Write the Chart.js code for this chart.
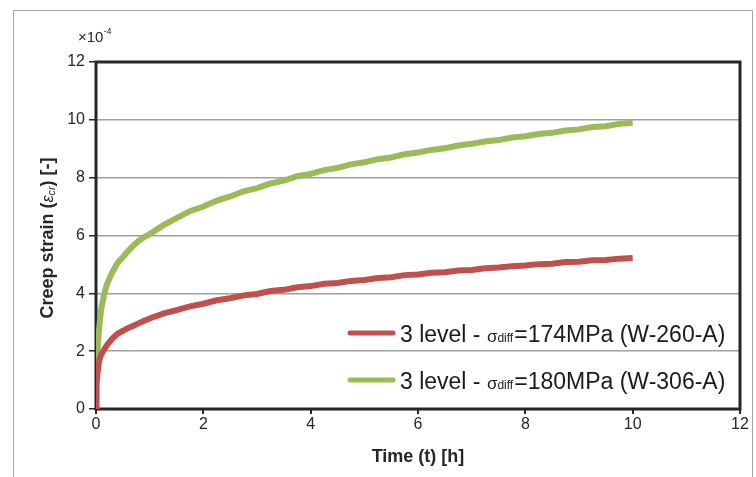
<!DOCTYPE html>
<html>
<head>
<meta charset="utf-8">
<script src="https://cdn.jsdelivr.net/npm/chart.js@4/dist/chart.umd.min.js"></script>
<style>
  body { margin: 0; background: #fff; }
  canvas { display: block; }
</style>
</head>
<body>
<canvas id="creepChart" width="756" height="477"></canvas>
<script>
// time in hours, strain in units of 1e-4
const hours = [0, 0.005, 0.01, 0.02, 0.04, 0.07, 0.1, 0.15, 0.2, 0.3, 0.4, 0.5, 0.6, 0.7, 0.8, 0.9, 1.0,
  1.25, 1.5, 1.75, 2, 2.25, 2.5, 2.75, 3, 3.25, 3.5, 3.75, 4, 4.25, 4.5, 4.75, 5,
  5.25, 5.5, 5.75, 6, 6.25, 6.5, 6.75, 7, 7.25, 7.5, 7.75, 8, 8.25, 8.5, 8.75, 9, 9.25, 9.5, 9.75, 10];
const strainW260 = [0, 0.5, 0.8, 1.1, 1.45, 1.75, 1.9, 2.05, 2.2, 2.43, 2.6, 2.7, 2.8, 2.88, 2.97, 3.05, 3.13,
  3.3, 3.42, 3.55, 3.64, 3.76, 3.83, 3.93, 3.98, 4.08, 4.12, 4.21, 4.25, 4.33, 4.36, 4.43, 4.46,
  4.53, 4.56, 4.63, 4.65, 4.71, 4.73, 4.79, 4.81, 4.87, 4.89, 4.94, 4.96, 5.01, 5.02, 5.08, 5.09, 5.14, 5.15, 5.2, 5.22];
const strainW306 = [0, 0.9, 1.3, 1.8, 2.4, 3.0, 3.5, 3.95, 4.3, 4.72, 5.05, 5.25, 5.47, 5.66, 5.82, 5.95, 6.05,
  6.35, 6.6, 6.84, 7.0, 7.21, 7.35, 7.53, 7.64, 7.8, 7.9, 8.05, 8.13, 8.26, 8.34, 8.46, 8.53,
  8.64, 8.7, 8.81, 8.87, 8.96, 9.02, 9.11, 9.17, 9.25, 9.3, 9.39, 9.43, 9.51, 9.55, 9.63, 9.67, 9.75, 9.78, 9.86, 9.9];
const xTicks = [0, 2, 4, 6, 8, 10, 12];
const yTicks = [0, 2, 4, 6, 8, 10, 12];

const seriesNames = [
  [['3 level - ', 'normal'], ['σ', 'sigma'], ['diff', 'sub'], ['=174MPa (W-260-A)', 'normal']],
  [['3 level - ', 'normal'], ['σ', 'sigma'], ['diff', 'sub'], ['=180MPa (W-306-A)', 'normal']]
];

const FONT = 'Liberation Sans, Arial, sans-serif';

function toPoints(xs, ys) {
  return xs.map(function (x, i) { return { x: x, y: ys[i] }; });
}

// draws a line of text made of runs with different fonts
function drawRuns(ctx, runs, x, y, align) {
  let total = 0;
  runs.forEach(function (r) { ctx.font = r.font; r.w = ctx.measureText(r.t).width + (r.gap || 0); total += r.w; });
  let cx = align === 'center' ? x - total / 2 : x;
  ctx.textBaseline = 'alphabetic';
  ctx.textAlign = 'left';
  runs.forEach(function (r) {
    ctx.font = r.font;
    ctx.fillText(r.t, cx, y + (r.dy || 0));
    cx += r.w;
  });
}

const decorPlugin = {
  id: 'decor',
  beforeDraw: function (chart) {
    const ctx = chart.ctx;
    ctx.save();
    ctx.strokeStyle = '#a6a6a6';
    ctx.lineWidth = 1;
    ctx.strokeRect(13.5, 10.5, 739, 520);
    ctx.restore();
  },
  beforeDatasetsDraw: function (chart) {
    const a = chart.chartArea;
    const ctx = chart.ctx;
    ctx.save();
    ctx.strokeStyle = '#262626';
    ctx.lineWidth = 3;
    ctx.strokeRect(a.left, a.top, a.right - a.left, a.bottom - a.top);
    ctx.restore();
  },
  afterDraw: function (chart) {
    const ctx = chart.ctx;
    const a = chart.chartArea;
    ctx.save();
    ctx.fillStyle = '#262626';

    // exponent label
    drawRuns(ctx, [
      { t: '×10', font: '15px ' + FONT },
      { t: '-4', font: '9px ' + FONT, dy: -8 }
    ], 78, 42, 'left');

    // x title
    drawRuns(ctx, [{ t: 'Time (t) [h]', font: 'bold 18px ' + FONT }], (a.left + a.right) / 2, 462, 'center');

    // y title
    ctx.save();
    ctx.translate(53, 238);
    ctx.rotate(-Math.PI / 2);
    drawRuns(ctx, [
      { t: 'Creep strain (', font: 'bold 18px ' + FONT },
      { t: 'ε', font: 'italic 16px ' + FONT },
      { t: 'cr', font: 'italic 11px ' + FONT, dy: 2 },
      { t: ') [-]', font: 'bold 18px ' + FONT }
    ], 0, 0, 'center');
    ctx.restore();

    // legend
    const rows = [333, 380];
    chart.data.datasets.forEach(function (ds, i) {
      const y = rows[i];
      ctx.strokeStyle = ds.borderColor;
      ctx.lineWidth = 5;
      ctx.lineCap = 'round';
      ctx.beginPath();
      ctx.moveTo(350, y);
      ctx.lineTo(393, y);
      ctx.stroke();
      ctx.fillStyle = '#1a1a1a';
      const runs = seriesNames[i].map(function (p) {
        if (p[1] === 'sigma') return { t: p[0], font: '17px ' + FONT };
        if (p[1] === 'sub') return { t: p[0], font: '12px ' + FONT, dy: 0, gap: 1 };
        return { t: p[0], font: '23px ' + FONT };
      });
      drawRuns(ctx, runs, 400, y + 9, 'left');
    });
    ctx.restore();
  }
};

document.addEventListener('DOMContentLoaded', function () {
  const ctx = document.getElementById('creepChart').getContext('2d');

  const data = {
    datasets: [{
      label: '3 level - σdiff=174MPa (W-260-A)',
      data: toPoints(hours, strainW260),
      borderColor: '#c0504d',
      borderWidth: 6,
      pointRadius: 0,
      tension: 0,
      fill: false
    }, {
      label: '3 level - σdiff=180MPa (W-306-A)',
      data: toPoints(hours, strainW306),
      borderColor: '#9bbb59',
      borderWidth: 6,
      pointRadius: 0,
      tension: 0,
      fill: false
    }]
  };

  const config = {
    type: 'line',
    data: data,
    options: {
      responsive: false,
      animation: false,
      devicePixelRatio: 1,
      layout: {
        padding: { top: 62, left: 0, right: 16, bottom: 0 }
      },
      plugins: {
        legend: { display: false },
        tooltip: { enabled: false }
      },
      scales: {
        x: {
          type: 'linear',
          min: 0,
          max: 12,
          afterFit: function (scale) { scale.height = 68; },
          afterBuildTicks: function (scale) { scale.ticks = xTicks.map(function (v) { return { value: v }; }); },
          ticks: {
            color: '#262626',
            font: { family: FONT, size: 16 },
            padding: 1
          },
          grid: {
            drawOnChartArea: false,
            tickColor: '#262626',
            tickLength: 5,
            lineWidth: 2
          },
          border: { display: false }
        },
        y: {
          min: 0,
          max: 12,
          afterFit: function (scale) { scale.width = 96; },
          afterBuildTicks: function (scale) { scale.ticks = yTicks.map(function (v) { return { value: v }; }); },
          ticks: {
            color: '#262626',
            font: { family: FONT, size: 16 },
            padding: 4
          },
          grid: {
            color: '#a0a0a0',
            lineWidth: 1.5,
            tickColor: '#262626',
            tickLength: 7
          },
          border: { display: false }
        }
      }
    },
    plugins: [decorPlugin]
  };

  new Chart(ctx, config);
});
</script>
</body>
</html>
